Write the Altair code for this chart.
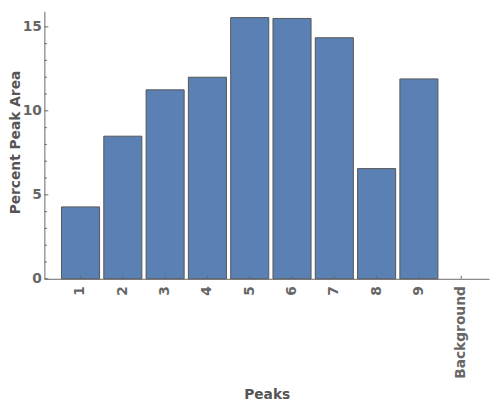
import altair as alt
import pandas as pd

peaks = ["1", "2", "3", "4", "5", "6", "7", "8", "9", "Background"]
percent = [4.28, 8.49, 11.25, 12.0, 15.55, 15.5, 14.35, 6.56, 11.9, 0.0]
major_ticks = [0, 5, 10, 15]
minor_ticks = [1, 2, 3, 4, 6, 7, 8, 9, 11, 12, 13, 14]

df = pd.DataFrame({"peak": peaks, "pct": percent})
df_major = pd.DataFrame({"v": major_ticks})
df_minor = pd.DataFrame({"v": minor_ticks})
df_x = pd.DataFrame({"peak": peaks})

FONT = "DejaVu Sans"
W, H = 452, 272

xscale = alt.Scale(domain=peaks, paddingInner=0.1, paddingOuter=0.306, align=0.66)
yscale = alt.Scale(domain=[0, 15.93], nice=False, zero=True)

bars = alt.Chart(df).mark_bar(
    fill="#5b80b4", stroke="#555555", strokeWidth=1
).encode(
    x=alt.X("peak:N", scale=xscale, sort=peaks,
            axis=alt.Axis(title="Peaks", labelAngle=270, labelAlign="right",
                          labelBaseline="middle", labelPadding=7, ticks=False,
                          titleBaseline="middle", titleY=118, titleX=W / 2)),
    y=alt.Y("pct:Q", scale=yscale,
            axis=alt.Axis(title="Percent Peak Area", values=major_ticks, ticks=False,
                          labelPadding=3, titleAngle=270, titleX=-29, titleY=133,
                          titleBaseline="middle", titleAlign="center")),
    strokeOpacity=alt.condition(alt.datum.pct > 0, alt.value(1), alt.value(0)),
)

ymaj = alt.Chart(df_major).mark_rule(color="#666666", strokeWidth=1).encode(
    y=alt.Y("v:Q", scale=yscale), x=alt.value(0), x2=alt.value(4)
)
ymin = alt.Chart(df_minor).mark_rule(color="#666666", strokeWidth=1).encode(
    y=alt.Y("v:Q", scale=yscale), x=alt.value(0), x2=alt.value(2.5)
)
xt = alt.Chart(df_x).mark_rule(color="#666666", strokeWidth=1).encode(
    x=alt.X("peak:N", scale=xscale, sort=peaks), y=alt.value(H), y2=alt.value(H - 3)
)

chart = alt.layer(bars, ymaj, ymin, xt).properties(
    width=W, height=H,
    autosize=alt.AutoSizeParams(type="none"),
    padding={"left": 37, "top": 0, "right": 3, "bottom": 124},
).configure_view(stroke=None).configure_axis(
    grid=False,
    domainColor="#666666",
    domainWidth=1,
    labelFont=FONT, labelFontSize=14, labelFontWeight="bold", labelColor="#666666",
    titleFont=FONT, titleFontSize=14, titleFontWeight="bold", titleColor="#555555",
)

chart.save("out.html", embed_options={"renderer": "svg", "actions": False})
